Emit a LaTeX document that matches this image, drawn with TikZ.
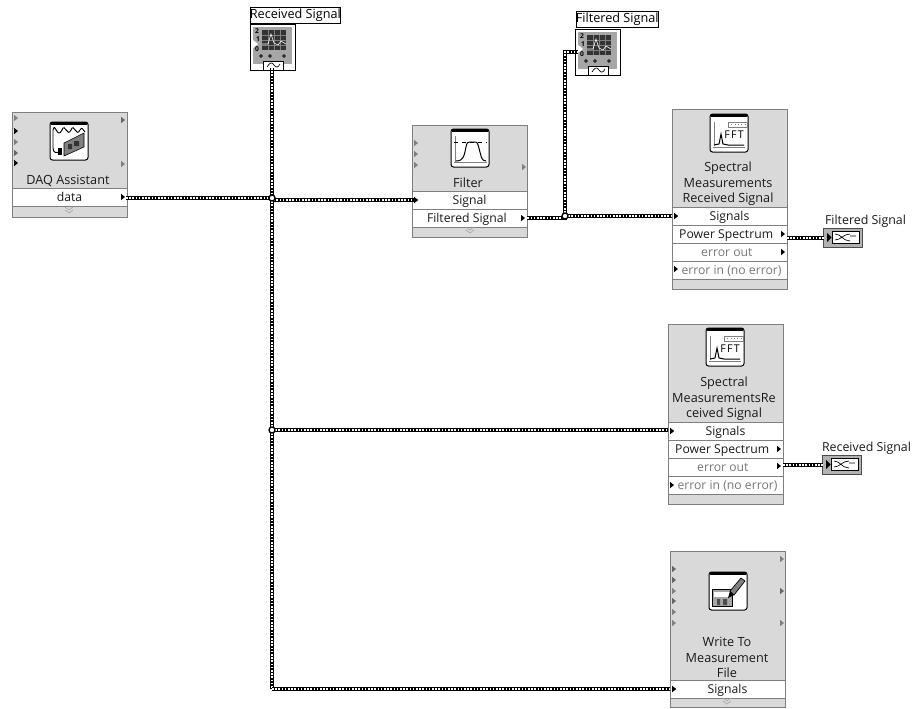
\documentclass[tikz,border=0pt]{standalone}
\usepackage{fontspec}
\setmainfont{Open Sans}
\newcommand\fs{\fontsize{9.15pt}{11.7pt}\selectfont}
\newcommand\fc{\fontsize{9.5pt}{11.7pt}\selectfont}
\definecolor{blockgray}{HTML}{D9D9D9}
\definecolor{edgegray}{HTML}{7F7F7F}
\definecolor{texty}{HTML}{1A1A1A}
\definecolor{dimtext}{HTML}{787878}
\definecolor{portgray}{HTML}{808080}
\tikzset{
  blockbox/.style={draw=edgegray,fill=blockgray,line width=.75pt,rectangle,inner sep=0pt,minimum width=86.25pt},
  rowbox/.style={draw=edgegray,fill=white,line width=.6pt,rectangle,inner sep=0pt,minimum width=86.25pt,minimum height=13.5pt,text height=8.2pt,text depth=1pt,font=\fs,text=texty},
  dimrow/.style={rowbox,text=dimtext},
  caption/.style={inner sep=0pt,font=\fc,text=texty,align=center},
  scopelabel/.style={draw=black,fill=white,line width=.6pt,inner sep=0pt,font=\fc,text=black,minimum height=12pt,text height=7pt,text depth=2pt},
  indlabel/.style={inner sep=0pt,font=\fontsize{9.3pt}{11pt}\selectfont,text=texty},
  junction/.style={circle,draw=black,fill=white,line width=1pt,minimum size=4.5pt,inner sep=0pt},
  wire/.style={draw=black,line width=3pt,postaction={draw=white,line width=1pt,dash pattern=on 1.2pt off 1.2pt}},
}
\newcommand\tri[3]{\fill[#3] (#1,#2-3.2)--(#1+4,#2)--(#1,#2+3.2)--cycle;}
\newcommand\chev[2]{\draw[edgegray!70,line width=.45pt] (#1-4,#2-3)--(#1,#2)--(#1+4,#2-3) (#1-4,#2)--(#1,#2+3)--(#1+4,#2);}
\newcommand\iconbase[2]{\filldraw[fill=white,draw=black,line width=.75pt,rounded corners=1.9pt] (#1,#2) rectangle ++(38,38);
  \fill[black] (#1+1,#2) rectangle ++(36,3);}
\newcommand\fftscope[2]{\begin{scope}[shift={(#1,#2)}]
  \iconbase{0}{0}
  \draw[edgegray,line width=.5pt] (18,8) rectangle (37,13);
  \draw[edgegray,line width=.5pt,dotted] (18,10.5)--(37,10.5);
  \draw[edgegray,line width=.6pt] (4,8)--(4,32) (3,33)--(35,33);
  \draw[black,line width=.75pt] (4,31)--(9,30)--(11,20)--(13,30)--(18,31)--(34,31);
  \node[inner sep=0pt,font=\fontsize{8pt}{8pt}\selectfont\addfontfeature{LetterSpace=12},text=black] (fft#1) at (24,21) {FFT};
\end{scope}}
\newcommand\scopeicon[2]{\begin{scope}[shift={(#1,#2)}]
  \filldraw[fill=white,draw=black,line width=.75pt] (0,0) rectangle (45,46);
  \fill[gray!70] (3,3) rectangle (42,40);
  \fill[black!80] (12,6) rectangle (36,26);
  \draw[gray,line width=.4pt] (12,11)--(36,11) (12,16)--(36,16) (12,21)--(36,21) (18,6)--(18,26) (24,6)--(24,26) (30,6)--(30,26);
  \draw[white,line width=.45pt] (12,20)--(18,20)--(21,10)--(24,19)--(28,21)--(31,17)--(36,20);
  \fill[white] (3,16) -- (8,20) -- (3,24) --cycle;
  \node[inner sep=0pt,font=\fontsize{5pt}{5pt}\selectfont\bfseries,text=black] (sa#1) at (7,7) {2};
  \node[inner sep=0pt,font=\fontsize{5pt}{5pt}\selectfont\bfseries,text=black] (sb#1) at (8,15) {1};
  \node[inner sep=0pt,font=\fontsize{5pt}{5pt}\selectfont\bfseries,text=black] (sc#1) at (7,25) {0};
  \draw[black,line width=.5pt] (11,32) circle (1.3) (20,32) circle (1.3) (34,32) circle (1.3);
  \filldraw[fill=white,draw=black,line width=.5pt] (13,46)--(13,37)--(33,37)--(33,46);
  \draw[black,line width=.5pt] (17,43)..controls (20,38) and (22,38) ..(24,41)..controls (26,44) and (28,44)..(30,40);
\end{scope}}
\newcommand\indicon[2]{\begin{scope}[shift={(#1,#2)}]
  \filldraw[fill=gray!60,draw=black!70,line width=.75pt] (0,0) rectangle (39,19);
  \filldraw[fill=white,draw=black,line width=.6pt] (9,3) rectangle (36,15);
  \fill[black] (4,5)--(8.5,9.5)--(4,14)--cycle;
  \draw[black,line width=.5pt] (12,6)..controls (18,6) and (20,13) ..(27,13) (12,12)..controls (18,12) and (20,6) ..(27,6) (27,8)--(33,8);
\end{scope}}
\begin{document}
\begin{tikzpicture}[x=.75pt,y=-.75pt]
\useasboundingbox (0,0) rectangle (913,708);
% ---- DAQ Assistant
\node[blockbox,anchor=north west,minimum height=78.75pt] (daq) at (12,112) {};
\begin{scope}[shift={(50,122)}]
  \iconbase{0}{0}
  \draw[black,line width=.7pt] (3,8)..controls (5,-1) and (7,18) ..(12,8)..controls (15,0) and (17,16) ..(21,8)..controls (24,0) and (26,16) ..(30,8)..controls (32,4) and (33,8)..(35,10);
  \draw[black,line width=.7pt] (3,8)--(3,26)..controls (3,31) and (6,31)..(10,30);
  \filldraw[fill=gray,draw=black,line width=.45pt] (14,21)--(34,11)--(34,25)--(14,34)--cycle;
  \fill[black!80] (18,22) rectangle (22,27) (24,19) rectangle (29,24);
  \fill[black] (8,26) rectangle (12,33);
\end{scope}
\node[caption] (daqname) at (68,181) {DAQ Assistant};
\node[rowbox] (daqdata) at (69.5,197) {data};
\chev{69}{210}
\tri{14}{118}{portgray}\tri{14}{131}{black}\tri{14}{142}{portgray}\tri{14}{153}{black!60}\tri{14}{163}{black}
\tri{121}{120}{black!60}\tri{121}{164}{portgray}\tri{121}{197}{black}
% ---- Filter
\node[blockbox,anchor=north west,minimum height=84pt] (filter) at (412,125) {};
\iconbase{451}{129}
\begin{scope}[shift={(451,129)}]
  \draw[edgegray,line width=.5pt] (4,7)--(4,33) (3,33)--(36,33);
  \draw[black,line width=.5pt,dashed] (3,13)--(36,13);
  \draw[black,line width=.75pt] (5,32)..controls (12,32) and (13,28)..(15,18)..controls (16,13) and (17,13)..(19,13)--(25,13)..controls (27,13) and (28,20)..(30,27)..controls (31,31) and (33,32)..(35,32);
\end{scope}
\node[caption] (filtername) at (468,183) {Filter};
\node[rowbox] (filtersig) at (469.5,200) {Signal};
\node[rowbox] (filterout) at (469.5,218) {Filtered Signal\kern4pt};
\chev{470}{230}
\tri{414}{143}{portgray}\tri{414}{154}{portgray}\tri{414}{165}{portgray}\tri{522}{167}{portgray}
\tri{414}{200}{black}\tri{521}{218}{black}
% ---- Spectral 1
\node[blockbox,anchor=north west,minimum height=135pt] (specA) at (672,109) {};
\fftscope{710}{114}
\node[caption] (specAname) at (728,184) {Spectral\\Measurements\\Received Signal};
\node[rowbox] (specAsig) at (729.5,216) {Signals};
\node[rowbox] (specApow) at (729.5,234) {Power Spectrum\kern5pt};
\node[dimrow] (specAerr) at (729.5,252) {error out\kern4pt};
\node[dimrow] (specAein) at (729.5,270) {\kern3pt error in (no error)};
\tri{674}{216}{black}\tri{781}{234}{black}\tri{781}{252}{black}\tri{674}{269}{black}
% ---- Spectral 2
\node[blockbox,anchor=north west,minimum height=135pt] (specB) at (668,324) {};
\fftscope{706}{328}
\node[caption] (specBname) at (724,399) {Spectral\\MeasurementsRe\\ceived Signal};
\node[rowbox] (specBsig) at (725.5,431) {Signals};
\node[rowbox] (specBpow) at (725.5,449) {Power Spectrum\kern5pt};
\node[dimrow] (specBerr) at (725.5,467) {error out\kern4pt};
\node[dimrow] (specBein) at (725.5,485) {\kern3pt error in (no error)};
\tri{670}{431}{black}\tri{777}{449}{black}\tri{777}{466}{black}\tri{670}{485}{black}
% ---- Write
\node[blockbox,anchor=north west,minimum height=117pt] (write) at (670,551) {};
\iconbase{709}{572}
\begin{scope}[shift={(709,572)}]
  \fill[gray!70] (3,17) rectangle (23,34);
  \draw[black,line width=.45pt] (3,17) rectangle (23,34);
  \fill[white] (5,20) rectangle (21,25);
  \fill[black!70] (8,27) rectangle (11,33) (14,27) rectangle (18,33);
  \filldraw[fill=gray,draw=black,line width=.5pt] (21,19)--(32,6)--(36,9)--(25,23)--cycle;
  \fill[black] (21,19)--(25,23)--(19,26)--cycle;
\end{scope}
\node[caption] (writename) at (727,657.5) {Write To\\Measurement\\File};
\node[rowbox] (writesig) at (727.5,689) {Signals};
\chev{727}{701}
\tri{672}{569}{black!60}\tri{672}{580}{black!60}\tri{672}{591}{portgray}\tri{672}{601}{black!60}\tri{672}{612}{portgray}\tri{672}{623}{portgray}
\tri{780}{559}{portgray}\tri{780}{591}{black!60}\tri{780}{623}{portgray}\tri{672}{689}{black}
% ---- Scopes
\node[scopelabel,anchor=south west] (recvlabel) at (249.5,23.5) {Received Signal};
\scopeicon{250}{24}
\coordinate (recvin) at (272,68);
\node[scopelabel,anchor=south west] (filtlabel) at (575.5,28) {Filtered Signal};
\scopeicon{575}{29}
\coordinate (filtin) at (578,52);
% ---- Indicators
\node[indlabel] (indAname) at (865.5,221) {Filtered Signal};
\indicon{823}{228}
\coordinate (indAin) at (824,238);
\node[indlabel] (indBname) at (866.5,448) {Received Signal};
\indicon{822}{455}
\coordinate (indBin) at (823,465);
% ---- Wires
\coordinate (jA) at (272,198);
\coordinate (jB) at (272,430);
\coordinate (jD) at (272,689);
\coordinate (jC) at (565,216);
\coordinate (daqout) at (126,198);
\coordinate (sigin) at (414,200);
\coordinate (powA) at (787,238);
\coordinate (errB) at (783,465);
\path[wire] (daqout) -- (jA);
\path[wire] (jA) |- (sigin);
\path[wire] (recvin) -- (jA);
\path[wire] (jA) -- (jB);
\path[wire] (jB) -- (jD);
\path[wire] (jD) -- (writesig.west);
\path[wire] (jB) -- (specBsig.west |- jB);
\path[wire] (filterout.east) -| (jC);
\path[wire] (jC) -- (specAsig.west);
\path[wire] (jC) |- (filtin);
\path[wire] (powA) -- (indAin);
\path[wire] (errB) -- (indBin);
\tri{414}{200}{black}\tri{674}{216}{black}\tri{670}{431}{black}\tri{672}{689}{black}
\node[junction] (juncA) at (jA) {};
\node[junction] (juncB) at (jB) {};
\node[junction] (juncC) at (jC) {};
\end{tikzpicture}
\end{document}
